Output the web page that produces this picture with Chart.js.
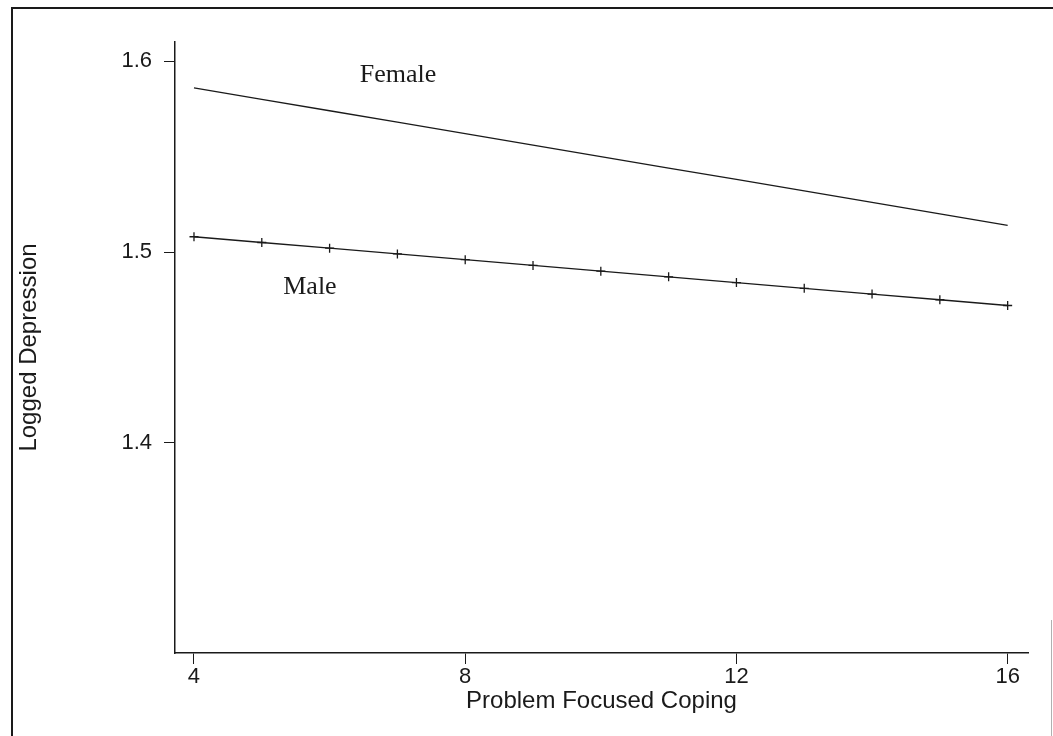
<!DOCTYPE html>
<html>
<head>
<meta charset="utf-8">
<style>
  html, body { margin: 0; padding: 0; background: #fff; }
  #wrap { width: 1053px; height: 736px; position: relative; }
</style>
<script src="https://cdn.jsdelivr.net/npm/chart.js@4"></script>
</head>
<body>
<div id="wrap"><canvas id="chart"></canvas></div>
<script>
// values
const coping = [4, 5, 6, 7, 8, 9, 10, 11, 12, 13, 14, 15, 16];
const female = [1.586, 1.580, 1.574, 1.568, 1.562, 1.556, 1.550, 1.544, 1.538, 1.532, 1.526, 1.520, 1.514];
const male = [1.508, 1.505, 1.502, 1.499, 1.496, 1.493, 1.490, 1.487, 1.484, 1.481, 1.478, 1.475, 1.472];
const xTicks = [4, 8, 12, 16];
const yTicks = [1.4, 1.5, 1.6];
const seriesNames = ["Female", "Male"];
const nameAt = [[7.01, 1.5925], [5.71, 1.4817]];

const ink = "#1a1a1a";

// the frame round the figure (top and left are solid, right edge is faint)
const framePlugin = {
    id: "frame",
    beforeDraw(chart) {
        const ctx = chart.ctx;
        ctx.save();
        ctx.strokeStyle = ink;
        ctx.lineWidth = 2;
        ctx.beginPath();
        ctx.moveTo(12, 740);
        ctx.lineTo(12, 8);
        ctx.lineTo(1053, 8);
        ctx.stroke();
        ctx.strokeStyle = "#b0b0b0";
        ctx.lineWidth = 1;
        ctx.beginPath();
        ctx.moveTo(1051.5, 620);
        ctx.lineTo(1051.5, 736);
        ctx.stroke();
        ctx.restore();
    }
};

// series names written next to the lines
const namePlugin = {
    id: "names",
    afterDatasetsDraw(chart) {
        const ctx = chart.ctx;
        const xs = chart.scales.x, ys = chart.scales.y;
        ctx.save();
        ctx.fillStyle = ink;
        ctx.font = "26px 'Liberation Serif', 'Times New Roman', serif";
        ctx.textAlign = "center";
        ctx.textBaseline = "middle";
        seriesNames.forEach((name, i) => {
            ctx.fillText(name, xs.getPixelForValue(nameAt[i][0]), ys.getPixelForValue(nameAt[i][1]));
        });
        ctx.restore();
    }
};

const tickFont = { family: "'Liberation Sans', Arial, sans-serif", size: 22 };
const titleFont = { family: "'Liberation Sans', Arial, sans-serif", size: 24 };

new Chart(document.getElementById("chart"), {
    type: "line",
    data: {
        datasets: [
            {
                label: seriesNames[0],
                data: coping.map((c, i) => ({ x: c, y: female[i] })),
                borderColor: ink,
                borderWidth: 1.3,
                pointRadius: 0,
                fill: false,
            },
            {
                label: seriesNames[1],
                data: coping.map((c, i) => ({ x: c, y: male[i] })),
                borderColor: ink,
                borderWidth: 1.3,
                pointStyle: "cross",
                pointRadius: 4.5,
                pointBorderWidth: 1.3,
                pointBorderColor: ink,
                fill: false,
            },
        ],
    },
    options: {
        responsive: true,
        maintainAspectRatio: false,
        animation: false,
        layout: { padding: { top: 42, right: 25, left: 0, bottom: 0 } },
        plugins: {
            legend: { display: false },
            tooltip: { enabled: false },
        },
        scales: {
            x: {
                type: "linear",
                min: 3.72,
                max: 16.3,
                afterBuildTicks: s => { s.ticks = xTicks.map(v => ({ value: v })); },
                afterFit: s => { s.height = 83; },
                ticks: { color: ink, font: tickFont, padding: 0, maxRotation: 0 },
                grid: { drawOnChartArea: false, tickLength: 11, color: ink, lineWidth: 1 },
                border: { display: true, color: ink, width: 1.5 },
                title: {
                    display: true,
                    text: "Problem Focused Coping",
                    color: ink,
                    font: titleFont,
                    padding: { top: 0, bottom: 20 },
                },
            },
            y: {
                type: "linear",
                min: 1.29,
                max: 1.61,
                afterBuildTicks: s => { s.ticks = yTicks.map(v => ({ value: v })); },
                afterFit: s => { s.width = 175; },
                ticks: { color: ink, font: tickFont, padding: 12, callback: v => v.toFixed(1) },
                grid: { drawOnChartArea: false, tickLength: 11, color: ink, lineWidth: 1 },
                border: { display: true, color: ink, width: 1.5 },
                title: {
                    display: true,
                    text: "Logged Depression",
                    color: ink,
                    font: titleFont,
                    padding: { top: 15, bottom: 0 },
                },
            },
        },
    },
    plugins: [framePlugin, namePlugin],
});
</script>
</body>
</html>
